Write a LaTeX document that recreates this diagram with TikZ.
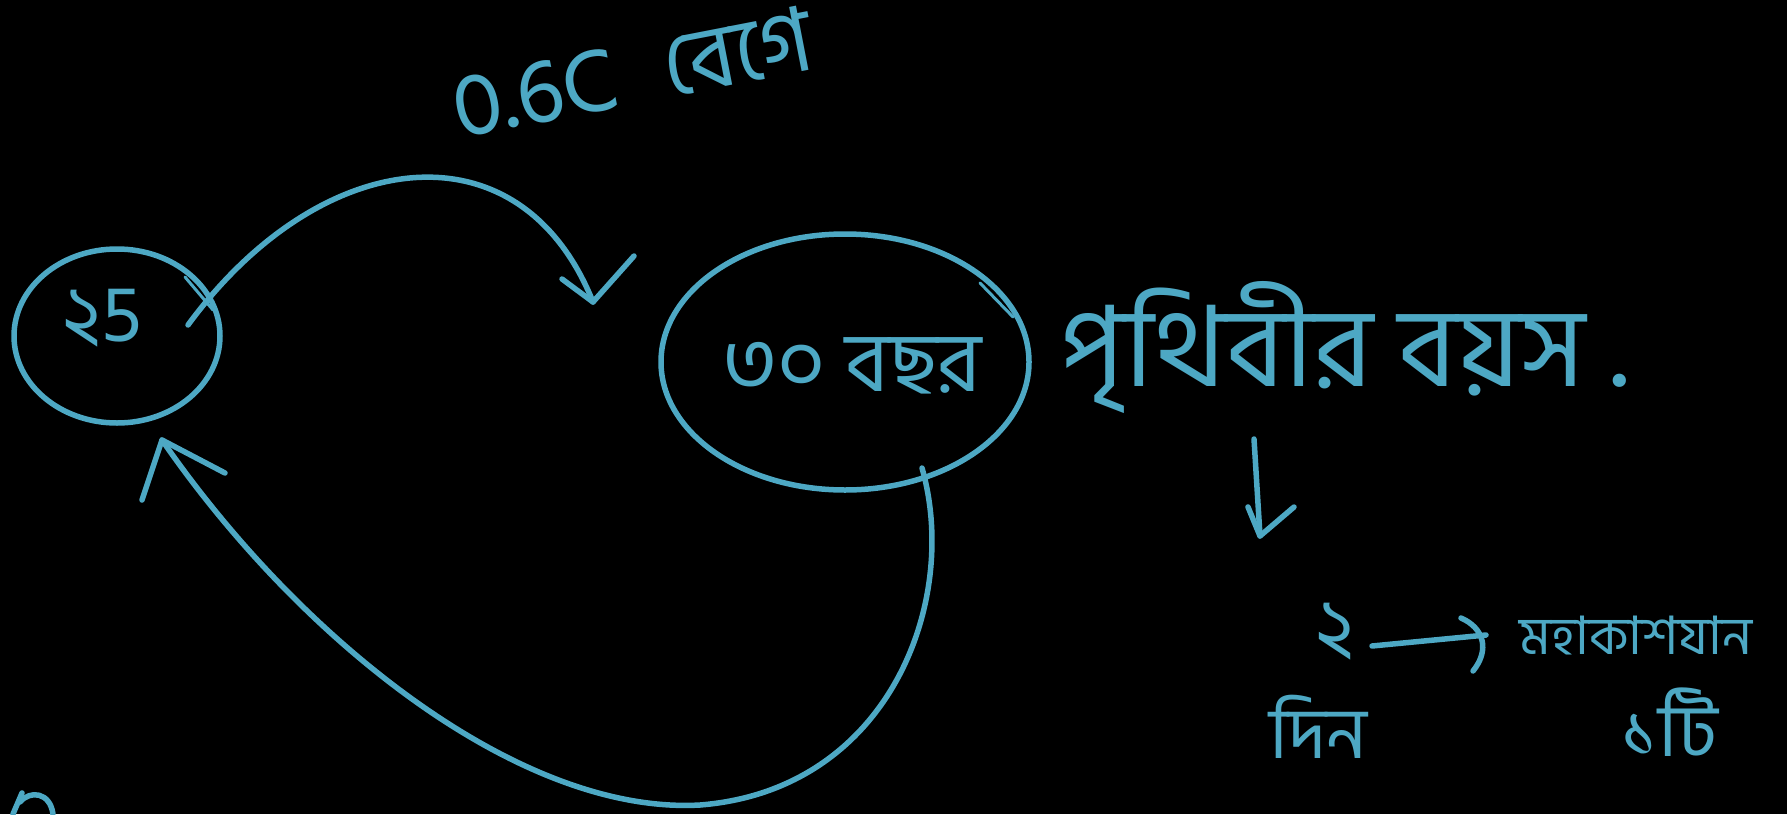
\documentclass[tikz,border=0pt]{standalone}
\usepackage{fontspec}
\usetikzlibrary{shapes.geometric}
\newfontfamily\bn[Script=Bengali]{Hind Siliguri}
\definecolor{ink}{RGB}{77,168,196}
\tikzset{
  pen/.style={draw=ink, line width=5.5pt, line cap=round, line join=round},
  ring/.style={pen, ellipse, inner sep=0pt},
  hand/.style={text=ink, font=\bn, inner sep=0pt}
}
\begin{document}
\begin{tikzpicture}[x=1pt,y=-1pt]
\fill[black] (0,0) rectangle (1787,814);
\useasboundingbox (0,0) rectangle (1787,814);

% nodes
\node[ring, minimum width=206pt, minimum height=174pt] (e25) at (117,336) {};
\node[hand, font=\bn\fontsize{80}{90}\selectfont] (t25) at (102,318) {২5};
\node[ring, minimum width=368pt, minimum height=256pt] (e30) at (845,362) {};
\node[hand, font=\bn\fontsize{84}{90}\selectfont] (t30) at (852,366) {৩০ বছর};
\node[hand, font=\bn\fontsize{90}{100}\selectfont, rotate=11] (speed) at (632,72) {0.6C\hspace{48pt}বেগে};
\node[hand, font=\bn\fontsize{112}{120}\selectfont] (earth) at (1345,348) {পৃথিবীর বয়স .};
\node[hand, font=\bn\fontsize{80}{90}\selectfont] (two) at (1335,632) {২};
\node[hand, font=\bn\fontsize{53}{60}\selectfont] (ship) at (1636,636) {মহাকাশযান};
\node[hand, font=\bn\fontsize{72}{80}\selectfont] (day) at (1318,727) {দিন};
\node[hand, font=\bn\fontsize{74}{80}\selectfont] (one) at (1670,722) {১টি};

% connector endpoints
\coordinate (a0) at (188,325);
\coordinate (a1) at (593,302);
\coordinate (a1l) at (562,279);
\coordinate (a1r) at (634,256);
\coordinate (b0) at (922,468);
\coordinate (bm) at (700,805);
\coordinate (b1) at (162,440);
\coordinate (b1l) at (142,500);
\coordinate (b1r) at (225,473);
\coordinate (c0) at (1254,439);
\coordinate (c1) at (1260,536);
\coordinate (c1l) at (1248,507);
\coordinate (c1r) at (1294,507);
\coordinate (d0) at (1372,646);
\coordinate (d1) at (1486,635);
\coordinate (d1t) at (1461,618);
\coordinate (d1b) at (1473,671);

% overshoot ticks of the two hand-drawn rings
\draw[pen, line width=3pt] (185,277) -- (213,310);
\draw[pen, line width=3pt] (980,283) -- (1013,317);

% top curved arrow 25 -> 30
\draw[pen] (a0) .. controls (320,145) and (520,120) .. (a1);
\draw[pen] (a1l) -- (a1) -- (a1r);

% bottom curved arrow 30 -> 25
\draw[pen] (b0) .. controls (960,600) and (890,790) .. (bm)
  .. controls (520,815) and (300,640) .. (b1);
\draw[pen] (b1l) -- (b1) -- (b1r);

% down arrow under the Earth text
\draw[pen] (c0) -- (c1);
\draw[pen] (c1l) -- (c1) -- (c1r);

% small arrow 2 -> word
\draw[pen] (d0) -- (d1);
\draw[pen] (d1t) .. controls (1484,628) and (1490,650) .. (d1b);

% cut-off stroke at the bottom-left edge
\draw[pen] (22,793) -- (13,814);
\draw[pen] (20,802) .. controls (30,790) and (50,792) .. (53,814);
\end{tikzpicture}
\end{document}
